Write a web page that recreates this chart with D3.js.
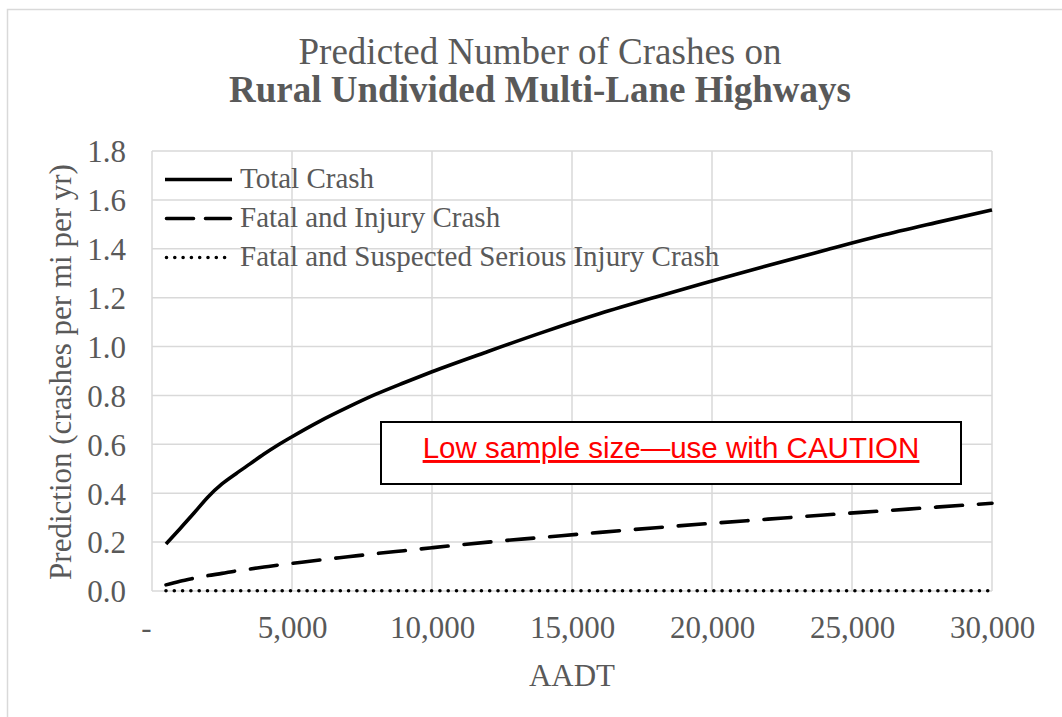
<!DOCTYPE html>
<html>
<head>
<meta charset="utf-8">
<script src="https://cdn.jsdelivr.net/npm/d3@7"></script>
<style>
  body { margin: 0; background: #fff; }
  svg { display: block; }
</style>
</head>
<body>
<svg id="chart" width="1062" height="717"></svg>
<script>
// data
var aadt = [500, 1000, 1500, 2000, 2500, 3000, 3500, 4000, 4500, 5000, 6000, 7000, 8000, 9000, 10000,
            12000, 14000, 16000, 18000, 20000, 22000, 24000, 26000, 28000, 30000];
var totalCrash = [0.192, 0.255, 0.319, 0.385, 0.438, 0.48, 0.52, 0.56, 0.597, 0.631, 0.695, 0.752, 0.805, 0.852, 0.897,
                  0.98, 1.06, 1.135, 1.203, 1.268, 1.332, 1.393, 1.453, 1.507, 1.559];
var fatalInjury = [0.025, 0.04, 0.052, 0.063, 0.072, 0.082, 0.09, 0.098, 0.106, 0.113, 0.127, 0.14, 0.153, 0.165, 0.177,
                   0.2, 0.22, 0.24, 0.259, 0.277, 0.294, 0.311, 0.327, 0.343, 0.359];
var fatalSerious = [0.001, 0.001, 0.001, 0.001, 0.001, 0.001, 0.001, 0.001, 0.001, 0.001, 0.001, 0.001, 0.001, 0.001, 0.001,
                    0.001, 0.001, 0.001, 0.001, 0.001, 0.001, 0.001, 0.001, 0.001, 0.001];

var xTicks = [0, 5000, 10000, 15000, 20000, 25000, 30000];
var yTicks = [0, 0.2, 0.4, 0.6, 0.8, 1.0, 1.2, 1.4, 1.6, 1.8];

var seriesNames = ["Total Crash", "Fatal and Injury Crash", "Fatal and Suspected Serious Injury Crash"];

var svg = d3.select("#chart");
var textColor = "#595959";
var gridColor = "#d9d9d9";
var serif = "'Liberation Serif', 'Times New Roman', serif";

// chart area border
svg.append("rect")
  .attr("x", 7.5).attr("y", 9.5)
  .attr("width", 1062).attr("height", 717)
  .attr("fill", "#fff")
  .attr("stroke", gridColor)
  .attr("stroke-width", 1.5);

var x = d3.scaleLinear().domain([0, 30000]).range([152, 992]);
var y = d3.scaleLinear().domain([0, 1.8]).range([591, 151]);

// title
svg.append("text")
  .attr("x", 540).attr("y", 64)
  .attr("text-anchor", "middle")
  .style("font-family", serif)
  .style("font-size", "37px")
  .style("fill", textColor)
  .text("Predicted Number of Crashes on");
svg.append("text")
  .attr("x", 540).attr("y", 102)
  .attr("text-anchor", "middle")
  .style("font-family", serif)
  .style("font-size", "37px")
  .style("font-weight", "bold")
  .style("fill", textColor)
  .text("Rural Undivided Multi-Lane Highways");

// grid
var grid = svg.append("g").attr("class", "grid");
grid.selectAll("line.h")
  .data(yTicks)
  .enter().append("line")
  .attr("class", "h")
  .attr("x1", x(0)).attr("x2", x(30000))
  .attr("y1", function(d){ return y(d); })
  .attr("y2", function(d){ return y(d); })
  .attr("stroke", gridColor)
  .attr("stroke-width", 1.5);
grid.selectAll("line.v")
  .data(xTicks)
  .enter().append("line")
  .attr("class", "v")
  .attr("y1", y(0)).attr("y2", y(1.8))
  .attr("x1", function(d){ return x(d); })
  .attr("x2", function(d){ return x(d); })
  .attr("stroke", gridColor)
  .attr("stroke-width", 1.5);

// axes (labels only, Excel style)
var xAxis = d3.axisBottom(x)
  .tickValues(xTicks)
  .tickSize(0)
  .tickPadding(0)
  .tickFormat(function(d){ return d === 0 ? "-" : d3.format(",")(d); });
var gx = svg.append("g")
  .attr("transform", "translate(0," + 616 + ")")
  .call(xAxis);
gx.select(".domain").remove();
gx.selectAll("text")
  .attr("dy", "0.71em")
  .attr("dx", function(d){ return d === 0 ? -6 : 0; })
  .style("font-family", serif)
  .style("font-size", "31px")
  .style("fill", textColor);

var yAxis = d3.axisLeft(y)
  .tickValues(yTicks)
  .tickSize(0)
  .tickPadding(0)
  .tickFormat(d3.format(".1f"));
var gy = svg.append("g")
  .attr("transform", "translate(" + 126 + ",0)")
  .call(yAxis);
gy.select(".domain").remove();
gy.selectAll("text")
  .attr("dy", "0.35em")
  .style("font-family", serif)
  .style("font-size", "31px")
  .style("fill", textColor);

// axis titles
svg.append("text")
  .attr("x", 572).attr("y", 686)
  .attr("text-anchor", "middle")
  .style("font-family", serif)
  .style("font-size", "31px")
  .style("fill", textColor)
  .text("AADT");
svg.append("text")
  .attr("transform", "translate(71,372) rotate(-90)")
  .attr("text-anchor", "middle")
  .style("font-family", serif)
  .style("font-size", "31px")
  .style("fill", textColor)
  .text("Prediction (crashes per mi per yr)");

// series
var series = [
  { name: seriesNames[0], values: totalCrash, dash: null, width: 3.6, cap: "butt" },
  { name: seriesNames[1], values: fatalInjury, dash: "27,16", width: 3.6, cap: "round" },
  { name: seriesNames[2], values: fatalSerious, dash: "0,8.3", width: 3.6, cap: "round" }
];

var line = d3.line()
  .x(function(d){ return x(d.a); })
  .y(function(d){ return y(d.v); })
  .curve(d3.curveMonotoneX);

svg.selectAll(".series")
  .data(series)
  .enter().append("path")
  .attr("class", "series")
  .attr("fill", "none")
  .attr("stroke", "#000")
  .attr("stroke-width", function(d){ return d.width; })
  .attr("stroke-linecap", function(d){ return d.cap; })
  .attr("stroke-linejoin", "round")
  .attr("stroke-dasharray", function(d){ return d.dash; })
  .attr("d", function(d){
    return line(d.values.map(function(v, i){ return { a: aadt[i], v: v }; }));
  });

// legend
var legend = svg.append("g").attr("class", "legend");
var legendRows = legend.selectAll("g")
  .data(series)
  .enter().append("g")
  .attr("transform", function(d, i){ return "translate(0," + (179.5 + i * 39) + ")"; });
legendRows.append("line")
  .attr("x1", function(d, i){ return i === 0 ? 165 : 166.5; })
  .attr("x2", function(d, i){ return i === 0 ? 232 : 230.5; })
  .attr("y1", 0).attr("y2", 0)
  .attr("stroke", "#000")
  .attr("stroke-width", function(d){ return d.width; })
  .attr("stroke-linecap", function(d){ return d.cap; })
  .attr("stroke-dasharray", function(d, i){ return i === 1 ? "27,12" : d.dash; });
legendRows.append("text")
  .attr("x", 240).attr("y", 8)
  .style("font-family", serif)
  .style("font-size", "29px")
  .style("fill", textColor)
  .text(function(d){ return d.name; });

// caution box
svg.append("rect")
  .attr("x", 381).attr("y", 422)
  .attr("width", 580).attr("height", 62)
  .attr("fill", "#fff")
  .attr("stroke", "#000")
  .attr("stroke-width", 2);
svg.append("text")
  .attr("x", 671).attr("y", 458)
  .attr("text-anchor", "middle")
  .style("font-family", "'Liberation Sans', Arial, sans-serif")
  .style("font-size", "29.5px")
  .style("fill", "#ff0000")
  .style("text-decoration", "underline")
  .text("Low sample size\u2014use with CAUTION");
</script>
</body>
</html>
